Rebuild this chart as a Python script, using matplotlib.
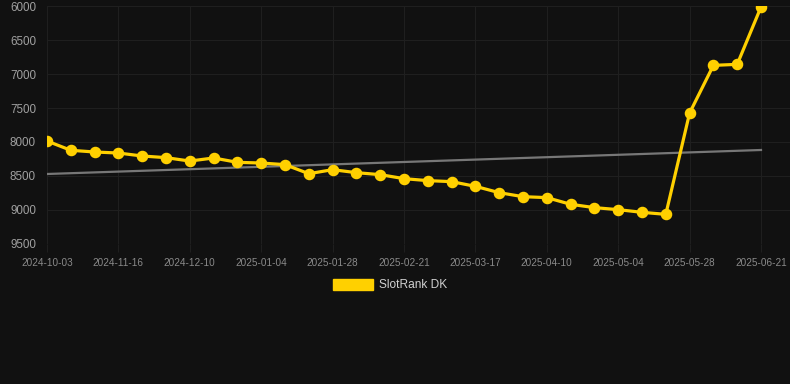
import matplotlib

matplotlib.use("Agg")
import matplotlib.pyplot as plt
import numpy as np
from matplotlib.patches import Patch

# weekly rank snapshots (lower number = better rank, axis is inverted)
dates = [
    "2024-10-03", "2024-10-27", "2024-11-08", "2024-11-16", "2024-11-24", "2024-12-02",
    "2024-12-10", "2024-12-18", "2024-12-26", "2025-01-04", "2025-01-12", "2025-01-20",
    "2025-01-28", "2025-02-05", "2025-02-13", "2025-02-21", "2025-03-01", "2025-03-09",
    "2025-03-17", "2025-03-25", "2025-04-02", "2025-04-10", "2025-04-18", "2025-04-26",
    "2025-05-04", "2025-05-12", "2025-05-20", "2025-05-28", "2025-06-05", "2025-06-13",
    "2025-06-21",
]
rank = [
    7985, 8122, 8147, 8162, 8206, 8230, 8280, 8235, 8299, 8309,
    8333, 8466, 8407, 8451, 8480, 8539, 8568, 8583, 8652, 8745,
    8804, 8818, 8916, 8965, 8995, 9034, 9064, 7574, 6873, 6858,
    6015,
]
y_ticks = [6000, 6500, 7000, 7500, 8000, 8500, 9000, 9500]
series_label = "SlotRank DK"

BG = "#111111"
GRID = "#1f1f1f"
GOLD = "#FFD000"

plt.rcParams["font.family"] = ["Liberation Sans", "DejaVu Sans"]

x = np.arange(len(dates))
slope, intercept = np.polyfit(x, rank, 1)
trend = slope * x + intercept

fig = plt.figure(figsize=(7.9, 3.84), dpi=100, facecolor=BG)
ax = fig.add_axes([47 / 790, 1 - 244 / 384, 1 - 47 / 790, 238 / 384])
ax.set_facecolor(BG)

ax.plot(x, trend, color="#777777", linewidth=1.6, zorder=2)
ax.plot(x, rank, color=GOLD, linewidth=2.3, marker="o", markersize=7.3,
        markerfacecolor=GOLD, markeredgecolor=GOLD, zorder=3)

ax.set_ylim(9500, 6000)
ax.set_xlim(0, 30 + 29 / 23.8)
ax.set_yticks(y_ticks)
ax.set_yticklabels([str(v) for v in y_ticks])
tick_pos = x[::3]
ax.set_xticks(tick_pos)
ax.set_xticklabels([dates[i] for i in tick_pos])

ax.grid(True, color=GRID, linewidth=0.8)
ax.set_axisbelow(True)
for spine in ax.spines.values():
    spine.set_visible(False)
ax.tick_params(axis="y", length=0, pad=8, labelsize=8.4, labelcolor="#a0a0a0")
ax.tick_params(axis="x", length=6, color=GRID, pad=4, labelsize=7.2, labelcolor="#8a8a8a")

handle = Patch(facecolor=GOLD, edgecolor=GOLD)
fig.legend([handle], [series_label], loc="center", bbox_to_anchor=(390 / 790, 1 - 285 / 384),
           frameon=False, fontsize=8.6, labelcolor="#d0d0d0",
           handlelength=3.3, handleheight=1.1, handletextpad=0.5)

fig.savefig("out.png", dpi=100, facecolor=BG)
